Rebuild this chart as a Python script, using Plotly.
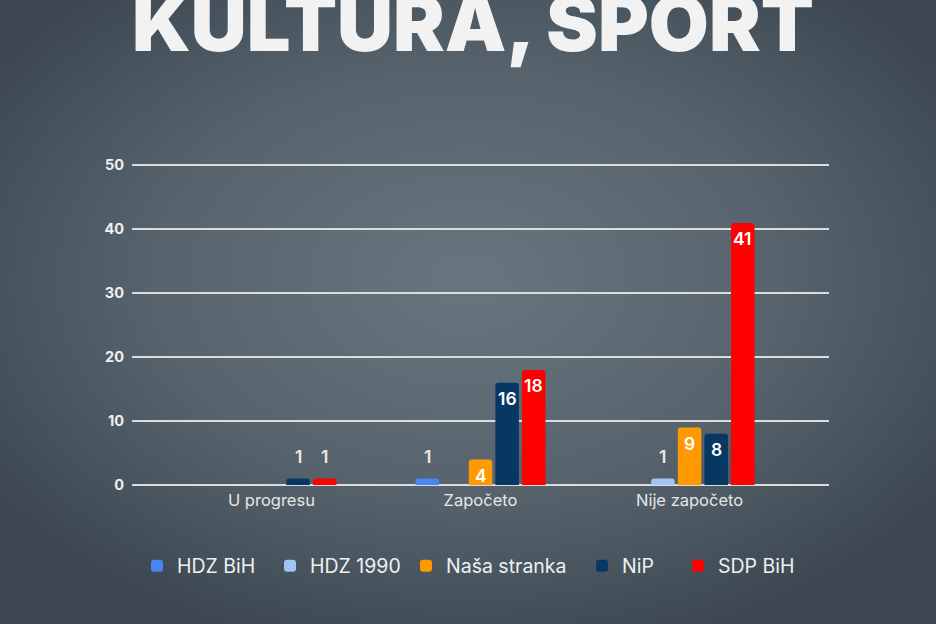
import base64
import plotly.graph_objects as go

categories = ["U progresu", "Započeto", "Nije započeto"]
parties = ["HDZ BiH", "HDZ 1990", "Naša stranka", "NiP", "SDP BiH"]
hdz_bih = [0, 1, 0]
hdz_1990 = [0, 0, 1]
nasa_stranka = [0, 4, 9]
nip = [1, 16, 8]
sdp_bih = [1, 18, 41]
y_ticks = [0, 10, 20, 30, 40, 50]

series = [hdz_bih, hdz_1990, nasa_stranka, nip, sdp_bih]
colors = ["#4a86f0", "#a4c2f4", "#ff9900", "#073763", "#ff0000"]
legend_left = [151, 284, 420, 596, 692]   # left edge of each legend swatch (px)

W, H = 936, 624
YMAX = 51
PX_PER_UNIT = 6.386
ML, MR, MB = 132, 107, 139
MT = round(H - MB - PX_PER_UNIT * YMAX, 1)
PW, PH = W - ML - MR, H - MT - MB

pitch = 0.1273   # distance between neighbouring bars (category units)
bw = 0.1124      # bar width (category units)

FONT = "Inter"

svg = (
    "<svg xmlns='http://www.w3.org/2000/svg' width='936' height='624'>"
    "<defs><radialGradient id='g' cx='50%' cy='45%' r='62%'>"
    "<stop offset='0' stop-color='#68767f'/>"
    "<stop offset='0.55' stop-color='#56636d'/>"
    "<stop offset='1' stop-color='#3b4650'/>"
    "</radialGradient></defs>"
    "<rect width='936' height='624' fill='url(#g)'/></svg>"
)
bg_src = "data:image/svg+xml;base64," + base64.b64encode(svg.encode()).decode()

fig = go.Figure()
annotations = []
legends = {}
n = len(series)
for k, (name, vals, col) in enumerate(zip(parties, series, colors)):
    off = (k - (n - 1) / 2) * pitch - bw / 2
    lg = "legend" if k == 0 else f"legend{k + 1}"
    fig.add_trace(go.Bar(
        name=name, x=categories, y=vals, marker=dict(color=col, line=dict(width=0)),
        width=[bw] * len(vals), offset=[off] * len(vals), hoverinfo="skip",
        legend=lg,
    ))
    legends[lg] = dict(
        orientation="h", xref="container", x=(legend_left[k] - 14) / W, xanchor="left",
        yref="container", y=(H - 566) / H, yanchor="middle",
        font=dict(family=FONT, size=19.5, color="#f0f0f0"),
        bgcolor="rgba(0,0,0,0)", itemclick=False, itemdoubleclick=False,
    )
    for i, v in enumerate(vals):
        if v <= 0:
            continue
        xc = i + off + bw / 2
        if v >= 4:
            shift, color = -16, "#ffffff"
        else:
            shift, color = 22, "#e8e8e8"
        annotations.append(dict(
            x=xc, y=v, xref="x", yref="y", text=str(v), showarrow=False,
            yanchor="middle", xanchor="center", yshift=shift,
            font=dict(family=FONT, size=17.5, color=color, weight=600),
        ))

annotations.append(dict(
    text="KULTURA, SPORT", xref="paper", yref="paper",
    x=(W / 2 + 5 - ML) / PW, y=1 + (MT - 72) / PH, xanchor="center", yanchor="bottom",
    showarrow=False, font=dict(family=FONT, size=77.5, color="#f2f2f2", weight=900),
))

fig.update_layout(
    width=W, height=H,
    margin=dict(l=ML, r=MR, t=MT, b=MB),
    paper_bgcolor="rgba(0,0,0,0)", plot_bgcolor="rgba(0,0,0,0)",
    barmode="overlay", barcornerradius=3,
    showlegend=True,
    xaxis=dict(
        type="category", range=[-0.667, 2.667], showgrid=False, zeroline=False,
        showline=False, ticks="", ticklabelstandoff=3,
        tickfont=dict(family=FONT, size=16.5, color="#e6e6e6"),
    ),
    yaxis=dict(
        range=[0, YMAX], tickvals=y_ticks, showgrid=True, gridcolor="#dcdcdc",
        gridwidth=1.6, zeroline=True, zerolinecolor="#dcdcdc", zerolinewidth=1.6,
        showline=False, ticks="", ticklabelstandoff=7,
        tickfont=dict(family=FONT, size=14.5, color="#f0f0f0", weight=700),
    ),
    images=[dict(
        source=bg_src, xref="paper", yref="paper",
        x=-ML / PW, y=1 + MT / PH, sizex=W / PW, sizey=H / PH,
        xanchor="left", yanchor="top", sizing="stretch", layer="below",
    )],
    annotations=annotations,
    **legends,
)

fig.write_html(
    "out.html",
    config={"displayModeBar": False},
    post_script="document.body.style.margin='0';document.body.style.overflow='hidden';",
)
